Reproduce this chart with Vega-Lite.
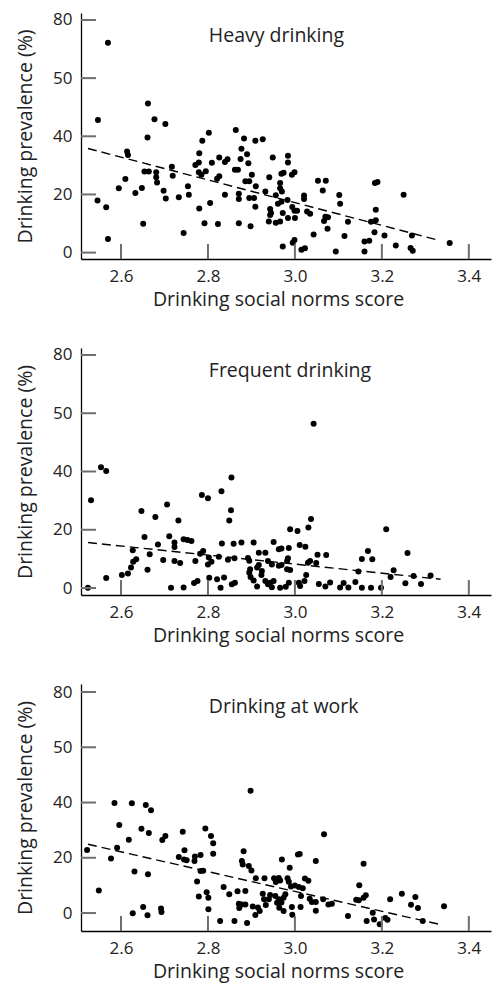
{
"$schema": "https://vega.github.io/schema/vega-lite/v6.json",
"padding": {"left": 15, "top": 10, "right": 4, "bottom": 5},
"spacing": 89,
"bounds": "flush",
"background": "white",
"datasets": {
"xticks": [{"t":2.6},{"t":2.8},{"t":3.0},{"t":3.2},{"t":3.4}],
"yticks": [{"v":0},{"v":20},{"v":40},{"v":60},{"v":80}],
"heavy": [{"x":2.547,"y":45.6},{"x":2.570,"y":72.2},{"x":2.546,"y":17.9},{"x":2.566,"y":15.6},{"x":2.570,"y":4.7},{"x":2.662,"y":51.3},{"x":2.661,"y":39.6},{"x":2.677,"y":45.9},{"x":2.702,"y":44.2},{"x":2.614,"y":34.8},{"x":2.616,"y":33.6},{"x":2.595,"y":22.1},{"x":2.610,"y":25.3},{"x":2.633,"y":20.5},{"x":2.648,"y":22.2},{"x":2.651,"y":9.9},{"x":2.654,"y":27.9},{"x":2.664,"y":27.9},{"x":2.681,"y":27.6},{"x":2.681,"y":25.9},{"x":2.683,"y":24.1},{"x":2.698,"y":21.3},{"x":2.703,"y":18.6},{"x":2.717,"y":29.5},{"x":2.719,"y":26.4},{"x":2.733,"y":19.0},{"x":2.744,"y":6.7},{"x":2.754,"y":22.8},{"x":2.756,"y":19.9},{"x":2.771,"y":30.1},{"x":2.779,"y":31.0},{"x":2.780,"y":34.2},{"x":2.787,"y":38.5},{"x":2.802,"y":41.2},{"x":2.779,"y":27.6},{"x":2.785,"y":26.8},{"x":2.795,"y":28.0},{"x":2.809,"y":30.9},{"x":2.826,"y":32.7},{"x":2.780,"y":15.2},{"x":2.805,"y":17.1},{"x":2.792,"y":10.1},{"x":2.823,"y":9.8},{"x":2.821,"y":25.4},{"x":2.826,"y":26.3},{"x":2.839,"y":31.2},{"x":2.845,"y":32.1},{"x":2.839,"y":19.9},{"x":2.864,"y":42.2},{"x":2.862,"y":28.5},{"x":2.869,"y":28.5},{"x":2.883,"y":39.2},{"x":2.877,"y":35.7},{"x":2.875,"y":32.2},{"x":2.871,"y":20.2},{"x":2.871,"y":18.4},{"x":2.871,"y":10.1},{"x":2.898,"y":9.1},{"x":2.895,"y":18.8},{"x":2.906,"y":18.8},{"x":2.886,"y":24.5},{"x":2.895,"y":24.5},{"x":2.893,"y":30.7},{"x":2.901,"y":26.8},{"x":2.909,"y":38.5},{"x":2.926,"y":39.0},{"x":2.890,"y":33.8},{"x":2.910,"y":22.8},{"x":2.909,"y":15.8},{"x":2.941,"y":25.9},{"x":2.949,"y":32.7},{"x":2.984,"y":33.3},{"x":2.984,"y":31.0},{"x":2.932,"y":21.0},{"x":2.956,"y":19.7},{"x":2.966,"y":23.9},{"x":2.966,"y":22.1},{"x":2.970,"y":21.0},{"x":2.969,"y":27.1},{"x":2.974,"y":27.5},{"x":2.993,"y":26.8},{"x":2.999,"y":27.6},{"x":2.983,"y":18.1},{"x":2.961,"y":16.8},{"x":2.969,"y":17.5},{"x":2.943,"y":15.0},{"x":2.945,"y":13.6},{"x":2.943,"y":12.9},{"x":2.972,"y":13.6},{"x":2.994,"y":15.7},{"x":2.999,"y":14.4},{"x":3.005,"y":14.4},{"x":2.984,"y":11.9},{"x":3.000,"y":11.9},{"x":2.940,"y":10.7},{"x":2.956,"y":10.3},{"x":2.966,"y":10.7},{"x":3.021,"y":19.6},{"x":3.021,"y":18.4},{"x":3.028,"y":14.1},{"x":3.035,"y":13.4},{"x":3.053,"y":24.7},{"x":3.071,"y":24.7},{"x":3.064,"y":21.4},{"x":3.070,"y":12.3},{"x":3.067,"y":10.9},{"x":3.075,"y":8.2},{"x":3.043,"y":6.2},{"x":2.972,"y":2.1},{"x":2.999,"y":4.3},{"x":2.995,"y":3.4},{"x":3.015,"y":1.0},{"x":3.023,"y":1.5},{"x":3.102,"y":19.8},{"x":3.104,"y":16.8},{"x":3.122,"y":10.6},{"x":3.114,"y":5.7},{"x":3.094,"y":0.4},{"x":3.160,"y":3.8},{"x":3.171,"y":4.1},{"x":3.160,"y":0.4},{"x":3.175,"y":10.6},{"x":3.186,"y":11.1},{"x":3.186,"y":14.7},{"x":3.183,"y":7.0},{"x":3.184,"y":23.9},{"x":3.190,"y":24.3},{"x":3.206,"y":5.9},{"x":3.232,"y":2.4},{"x":3.250,"y":19.9},{"x":3.269,"y":5.9},{"x":3.266,"y":1.6},{"x":3.271,"y":0.6},{"x":3.356,"y":3.3},{"x":3.076,"y":12.2}],
"heavyLine": [{"x":2.524,"y":35.8},{"x":3.332,"y":4.2}],
"frequent": [{"x":2.524,"y":0.1},{"x":2.531,"y":30.1},{"x":2.554,"y":41.5},{"x":2.566,"y":40.2},{"x":2.566,"y":3.4},{"x":2.602,"y":4.5},{"x":2.616,"y":5.0},{"x":2.623,"y":7.0},{"x":2.628,"y":9.0},{"x":2.627,"y":13.0},{"x":2.635,"y":9.9},{"x":2.647,"y":26.4},{"x":2.654,"y":17.5},{"x":2.661,"y":6.3},{"x":2.666,"y":11.6},{"x":2.679,"y":24.4},{"x":2.685,"y":14.9},{"x":2.697,"y":9.6},{"x":2.706,"y":28.7},{"x":2.711,"y":17.8},{"x":2.715,"y":0.1},{"x":2.723,"y":15.6},{"x":2.723,"y":14.1},{"x":2.723,"y":9.3},{"x":2.736,"y":8.6},{"x":2.732,"y":23.2},{"x":2.744,"y":0.2},{"x":2.744,"y":16.7},{"x":2.753,"y":16.5},{"x":2.762,"y":16.1},{"x":2.771,"y":9.3},{"x":2.768,"y":1.7},{"x":2.776,"y":2.4},{"x":2.786,"y":31.9},{"x":2.800,"y":30.8},{"x":2.789,"y":12.7},{"x":2.782,"y":11.8},{"x":2.802,"y":10.5},{"x":2.808,"y":9.0},{"x":2.800,"y":8.1},{"x":2.803,"y":3.5},{"x":2.821,"y":3.0},{"x":2.829,"y":0.1},{"x":2.825,"y":10.7},{"x":2.831,"y":33.2},{"x":2.832,"y":15.3},{"x":2.837,"y":3.6},{"x":2.846,"y":9.7},{"x":2.854,"y":37.9},{"x":2.853,"y":26.7},{"x":2.849,"y":23.2},{"x":2.859,"y":15.2},{"x":2.861,"y":10.2},{"x":2.855,"y":1.3},{"x":2.862,"y":1.8},{"x":2.877,"y":15.6},{"x":2.892,"y":10.3},{"x":2.895,"y":9.4},{"x":2.897,"y":6.4},{"x":2.895,"y":5.2},{"x":2.898,"y":3.8},{"x":2.905,"y":2.6},{"x":2.905,"y":15.6},{"x":2.917,"y":12.1},{"x":2.932,"y":12.1},{"x":2.917,"y":7.9},{"x":2.924,"y":5.8},{"x":2.913,"y":7.0},{"x":2.913,"y":0.5},{"x":2.923,"y":4.5},{"x":2.932,"y":2.4},{"x":2.943,"y":1.8},{"x":2.951,"y":2.4},{"x":2.938,"y":1.3},{"x":2.947,"y":0.3},{"x":2.938,"y":9.3},{"x":2.947,"y":8.1},{"x":2.951,"y":15.8},{"x":2.963,"y":13.3},{"x":2.969,"y":13.6},{"x":2.986,"y":13.7},{"x":3.011,"y":14.8},{"x":3.024,"y":14.2},{"x":2.989,"y":20.2},{"x":3.006,"y":19.6},{"x":3.031,"y":20.8},{"x":3.037,"y":23.7},{"x":2.963,"y":7.6},{"x":2.969,"y":7.9},{"x":2.982,"y":9.3},{"x":2.984,"y":10.2},{"x":2.982,"y":6.4},{"x":2.989,"y":6.2},{"x":2.966,"y":0.1},{"x":2.979,"y":0.4},{"x":2.986,"y":1.8},{"x":3.009,"y":1.8},{"x":3.022,"y":2.4},{"x":3.026,"y":4.5},{"x":3.012,"y":0.7},{"x":3.030,"y":8.7},{"x":3.035,"y":9.3},{"x":3.049,"y":8.6},{"x":3.052,"y":11.4},{"x":3.072,"y":11.3},{"x":3.043,"y":56.4},{"x":3.055,"y":1.4},{"x":3.070,"y":0.5},{"x":3.081,"y":1.9},{"x":3.104,"y":0.2},{"x":3.112,"y":1.7},{"x":3.123,"y":0.2},{"x":3.139,"y":2.1},{"x":3.154,"y":0.1},{"x":3.175,"y":0.1},{"x":3.198,"y":0.1},{"x":3.210,"y":20.2},{"x":3.168,"y":12.7},{"x":3.154,"y":10.0},{"x":3.178,"y":9.9},{"x":3.259,"y":12.0},{"x":3.146,"y":5.7},{"x":3.227,"y":6.1},{"x":3.220,"y":3.8},{"x":3.273,"y":4.1},{"x":3.312,"y":4.3},{"x":3.254,"y":1.6},{"x":3.290,"y":1.4}],
"frequentLine": [{"x":2.524,"y":15.6},{"x":3.335,"y":3.0}],
"work": [{"x":2.522,"y":22.8},{"x":2.549,"y":8.2},{"x":2.577,"y":19.7},{"x":2.585,"y":39.8},{"x":2.591,"y":23.6},{"x":2.596,"y":31.9},{"x":2.618,"y":26.5},{"x":2.625,"y":39.7},{"x":2.627,"y":-0.1},{"x":2.631,"y":15.0},{"x":2.647,"y":30.5},{"x":2.651,"y":2.2},{"x":2.657,"y":39.1},{"x":2.669,"y":37.2},{"x":2.664,"y":29.0},{"x":2.662,"y":14.0},{"x":2.661,"y":-0.8},{"x":2.692,"y":1.6},{"x":2.693,"y":0.4},{"x":2.695,"y":26.4},{"x":2.702,"y":27.9},{"x":2.742,"y":29.4},{"x":2.746,"y":22.7},{"x":2.733,"y":20.3},{"x":2.745,"y":19.4},{"x":2.751,"y":19.1},{"x":2.770,"y":20.5},{"x":2.769,"y":18.8},{"x":2.783,"y":21.0},{"x":2.775,"y":11.4},{"x":2.783,"y":15.2},{"x":2.789,"y":15.3},{"x":2.794,"y":30.6},{"x":2.779,"y":6.0},{"x":2.797,"y":7.5},{"x":2.801,"y":5.5},{"x":2.801,"y":1.4},{"x":2.807,"y":27.9},{"x":2.812,"y":25.3},{"x":2.812,"y":21.5},{"x":2.828,"y":-2.9},{"x":2.861,"y":-2.9},{"x":2.836,"y":9.4},{"x":2.849,"y":6.8},{"x":2.868,"y":7.9},{"x":2.886,"y":8.0},{"x":2.871,"y":3.4},{"x":2.872,"y":1.8},{"x":2.878,"y":3.1},{"x":2.886,"y":3.1},{"x":2.878,"y":18.8},{"x":2.880,"y":17.6},{"x":2.882,"y":22.4},{"x":2.890,"y":-3.6},{"x":2.898,"y":44.3},{"x":2.894,"y":17.0},{"x":2.900,"y":15.4},{"x":2.910,"y":12.6},{"x":2.930,"y":12.6},{"x":2.926,"y":7.0},{"x":2.929,"y":5.0},{"x":2.933,"y":2.9},{"x":2.943,"y":6.5},{"x":2.903,"y":2.4},{"x":2.915,"y":2.0},{"x":2.919,"y":0.7},{"x":2.909,"y":-0.7},{"x":2.952,"y":12.6},{"x":2.963,"y":12.7},{"x":2.956,"y":11.2},{"x":2.966,"y":11.8},{"x":2.970,"y":19.4},{"x":2.988,"y":16.4},{"x":2.983,"y":12.6},{"x":2.986,"y":11.3},{"x":3.007,"y":21.2},{"x":3.011,"y":21.4},{"x":3.048,"y":18.8},{"x":3.067,"y":28.5},{"x":2.991,"y":9.6},{"x":3.000,"y":10.0},{"x":3.009,"y":9.4},{"x":3.018,"y":9.0},{"x":3.023,"y":12.5},{"x":3.031,"y":11.7},{"x":2.955,"y":6.2},{"x":2.963,"y":5.0},{"x":2.969,"y":3.8},{"x":2.959,"y":3.7},{"x":2.974,"y":5.5},{"x":2.978,"y":6.8},{"x":2.993,"y":2.2},{"x":2.994,"y":-0.6},{"x":3.014,"y":6.2},{"x":3.013,"y":2.2},{"x":3.034,"y":5.2},{"x":3.039,"y":4.0},{"x":3.048,"y":4.0},{"x":3.048,"y":0.8},{"x":3.065,"y":5.0},{"x":3.077,"y":3.1},{"x":3.085,"y":3.4},{"x":2.964,"y":1.9},{"x":2.974,"y":0.7},{"x":3.122,"y":-1.1},{"x":3.148,"y":10.1},{"x":3.158,"y":17.8},{"x":3.158,"y":5.5},{"x":3.163,"y":6.4},{"x":3.141,"y":4.8},{"x":3.147,"y":4.6},{"x":3.179,"y":0.1},{"x":3.165,"y":-2.9},{"x":3.182,"y":-2.3},{"x":3.195,"y":-4.1},{"x":3.208,"y":-1.8},{"x":3.213,"y":-2.4},{"x":3.219,"y":5.0},{"x":3.246,"y":7.0},{"x":3.277,"y":5.8},{"x":3.267,"y":3.0},{"x":3.283,"y":1.8},{"x":3.294,"y":-2.9},{"x":3.343,"y":2.5},{"x":2.940,"y":5.0}],
"workLine": [{"x":2.524,"y":24.9},{"x":3.335,"y":-4.2}]
},
"vconcat": [
{
"width": 410, "height": 246,
"layer": [
{"data": {"name": "heavy"}, "mark": {"type": "circle", "size": 36, "color": "black", "opacity": 1},
"encoding": {"x": {"field": "x", "type": "quantitative", "scale": {"domain": [2.508, 3.451], "nice": false, "zero": false}, "axis": {"orient": "bottom", "values": [2.6, 2.8, 3.0, 3.2, 3.4], "format": ".1f", "title": "Drinking social norms score"}},
"y": {"field": "y", "type": "quantitative", "scale": {"domain": [-2.2, 82.4], "nice": false, "zero": false}, "axis": {"orient": "left", "values": [0, 20, 40, 60, 80], "labelExpr": "datum.value == 60 ? '50' : datum.label", "title": "Drinking prevalence (%)"}}}},
{"data": {"name": "xticks"}, "mark": {"type": "tick", "orient": "vertical", "size": 15, "thickness": 2, "color": "#6e6e6e", "opacity": 1},
"encoding": {"x": {"field": "t", "type": "quantitative"}, "y": {"datum": 0.38, "type": "quantitative"}}},
{"data": {"name": "yticks"}, "mark": {"type": "tick", "orient": "horizontal", "size": 15, "thickness": 2, "color": "#6e6e6e", "opacity": 1},
"encoding": {"y": {"field": "v", "type": "quantitative"}, "x": {"datum": 2.5252, "type": "quantitative"}}},
{"data": {"name": "heavyLine"}, "mark": {"type": "line", "color": "black", "strokeDash": [9, 5], "strokeWidth": 1.4},
"encoding": {"x": {"field": "x", "type": "quantitative"}, "y": {"field": "y", "type": "quantitative"}}},
{"data": {"values": [{"label": "Heavy drinking"}]}, "mark": {"type": "text", "align": "left", "baseline": "alphabetic", "font": "Open Sans", "fontSize": 19.5, "color": "#222222"},
"encoding": {"text": {"field": "label"}, "x": {"datum": 2.802, "type": "quantitative"}, "y": {"datum": 72.4, "type": "quantitative"}}}
]
},
{
"width": 410, "height": 247,
"layer": [
{"data": {"name": "frequent"}, "mark": {"type": "circle", "size": 36, "color": "black", "opacity": 1},
"encoding": {"x": {"field": "x", "type": "quantitative", "scale": {"domain": [2.508, 3.451], "nice": false, "zero": false}, "axis": {"orient": "bottom", "values": [2.6, 2.8, 3.0, 3.2, 3.4], "format": ".1f", "title": "Drinking social norms score"}},
"y": {"field": "y", "type": "quantitative", "scale": {"domain": [-2.4, 82.4], "nice": false, "zero": false}, "axis": {"orient": "left", "values": [0, 20, 40, 60, 80], "labelExpr": "datum.value == 60 ? '50' : datum.label", "title": "Drinking prevalence (%)"}}}},
{"data": {"name": "xticks"}, "mark": {"type": "tick", "orient": "vertical", "size": 15, "thickness": 2, "color": "#6e6e6e", "opacity": 1},
"encoding": {"x": {"field": "t", "type": "quantitative"}, "y": {"datum": 0.175, "type": "quantitative"}}},
{"data": {"name": "yticks"}, "mark": {"type": "tick", "orient": "horizontal", "size": 15, "thickness": 2, "color": "#6e6e6e", "opacity": 1},
"encoding": {"y": {"field": "v", "type": "quantitative"}, "x": {"datum": 2.5252, "type": "quantitative"}}},
{"data": {"name": "frequentLine"}, "mark": {"type": "line", "color": "black", "strokeDash": [9, 5], "strokeWidth": 1.4},
"encoding": {"x": {"field": "x", "type": "quantitative"}, "y": {"field": "y", "type": "quantitative"}}},
{"data": {"values": [{"label": "Frequent drinking"}]}, "mark": {"type": "text", "align": "left", "baseline": "alphabetic", "font": "Open Sans", "fontSize": 19.5, "color": "#222222"},
"encoding": {"text": {"field": "label"}, "x": {"datum": 2.802, "type": "quantitative"}, "y": {"datum": 72.5, "type": "quantitative"}}}
]
},
{
"width": 410, "height": 247,
"layer": [
{"data": {"name": "work"}, "mark": {"type": "circle", "size": 36, "color": "black", "opacity": 1},
"encoding": {"x": {"field": "x", "type": "quantitative", "scale": {"domain": [2.508, 3.451], "nice": false, "zero": false}, "axis": {"orient": "bottom", "values": [2.6, 2.8, 3.0, 3.2, 3.4], "format": ".1f", "title": "Drinking social norms score"}},
"y": {"field": "y", "type": "quantitative", "scale": {"domain": [-6.5, 82.9], "nice": false, "zero": false}, "axis": {"orient": "left", "values": [0, 20, 40, 60, 80], "labelExpr": "datum.value == 60 ? '50' : datum.label", "title": "Drinking prevalence (%)"}}}},
{"data": {"name": "xticks"}, "mark": {"type": "tick", "orient": "vertical", "size": 15, "thickness": 2, "color": "#6e6e6e", "opacity": 1},
"encoding": {"x": {"field": "t", "type": "quantitative"}, "y": {"datum": -3.785, "type": "quantitative"}}},
{"data": {"name": "yticks"}, "mark": {"type": "tick", "orient": "horizontal", "size": 15, "thickness": 2, "color": "#6e6e6e", "opacity": 1},
"encoding": {"y": {"field": "v", "type": "quantitative"}, "x": {"datum": 2.5252, "type": "quantitative"}}},
{"data": {"name": "workLine"}, "mark": {"type": "line", "color": "black", "strokeDash": [9, 5], "strokeWidth": 1.4},
"encoding": {"x": {"field": "x", "type": "quantitative"}, "y": {"field": "y", "type": "quantitative"}}},
{"data": {"values": [{"label": "Drinking at work"}]}, "mark": {"type": "text", "align": "left", "baseline": "alphabetic", "font": "Open Sans", "fontSize": 19.5, "color": "#222222"},
"encoding": {"text": {"field": "label"}, "x": {"datum": 2.802, "type": "quantitative"}, "y": {"datum": 72.3, "type": "quantitative"}}}
]
}
],
"config": {
"view": {"stroke": null},
"axis": {"grid": false, "domainColor": "black", "domainWidth": 1.3, "ticks": false, "labelPadding": 9, "labelFont": "Open Sans", "labelFontSize": 17, "labelColor": "#222222", "titleFont": "Open Sans", "titleFontSize": 19.5, "titleFontWeight": "normal", "titleColor": "#222222", "titlePadding": 6},
"axisLeft": {"titlePadding": 17},
"axisBottom": {"titleX": 197}
}
}
